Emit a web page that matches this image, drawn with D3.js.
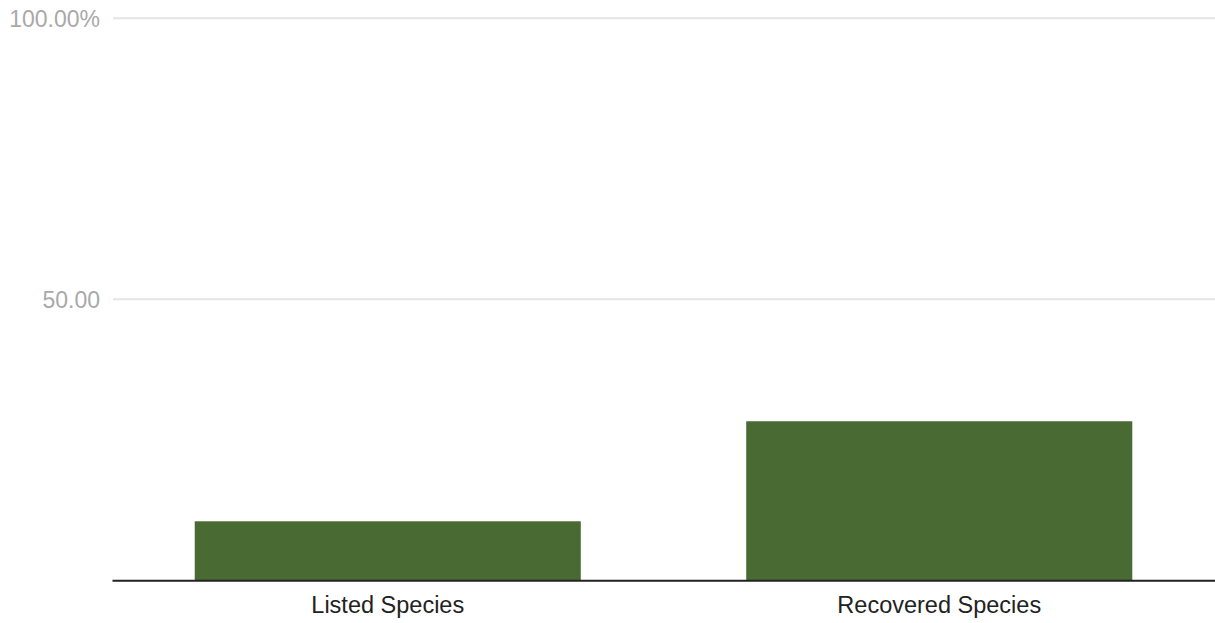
<!DOCTYPE html>
<html>
<head>
<meta charset="utf-8">
<script src="https://cdn.jsdelivr.net/npm/d3@7"></script>
<style>
    html, body { margin: 0; padding: 0; background: #fff; }
    svg { display: block; font-family: Roboto, "Noto Sans", sans-serif; }
</style>
</head>
<body>
<svg id="chart" width="1215" height="623"></svg>
<script>
// chart data
const categories = ['Listed Species', 'Recovered Species'];
const shares = [10.5, 28.3];
const tickValues = [50, 100];
const tickLabels = ['50.00', '100.00%'];

const width = 1215;
const height = 623;
const margin = { top: 18, right: 0, bottom: 43, left: 112 };

const svg = d3.select('#chart');

const x = d3.scaleBand()
    .domain(categories)
    .range([margin.left, width - margin.right])
    .paddingInner(0.3)
    .paddingOuter(0.15);

const y = d3.scaleLinear()
    .domain([0, 100])
    .range([580.3, margin.top + 0.3]);

// gridlines + y labels
const yAxis = d3.axisLeft(y)
    .tickValues(tickValues)
    .tickSize(0)
    .tickPadding(12)
    .tickFormat((d, i) => tickLabels[i]);

const gy = svg.append('g')
    .attr('transform', `translate(${margin.left},0)`)
    .call(yAxis);
gy.select('.domain').remove();
gy.selectAll('text')
    .attr('fill', '#a9a9a9')
    .attr('font-size', 23)
    .attr('dy', '0.36em');

svg.append('g')
    .selectAll('line')
    .data(tickValues)
    .join('line')
    .attr('x1', margin.left + 1)
    .attr('x2', width)
    .attr('y1', d => y(d))
    .attr('y2', d => y(d))
    .attr('stroke', '#e5e5e5')
    .attr('stroke-width', 2);

// bars
svg.append('g')
    .selectAll('rect')
    .data(shares)
    .join('rect')
    .attr('x', (d, i) => x(categories[i]))
    .attr('width', x.bandwidth())
    .attr('y', d => y(d))
    .attr('height', d => y(0) - y(d))
    .attr('fill', '#496a33');

// x axis
const xAxis = d3.axisBottom(x)
    .tickSize(0)
    .tickPadding(16);

const gx = svg.append('g')
    .attr('transform', `translate(0,${y(0)})`)
    .call(xAxis);
gx.select('.domain')
    .attr('stroke', '#222')
    .attr('stroke-width', 2);
gx.selectAll('text')
    .attr('fill', '#222')
    .attr('font-size', 23.5);
</script>
</body>
</html>
